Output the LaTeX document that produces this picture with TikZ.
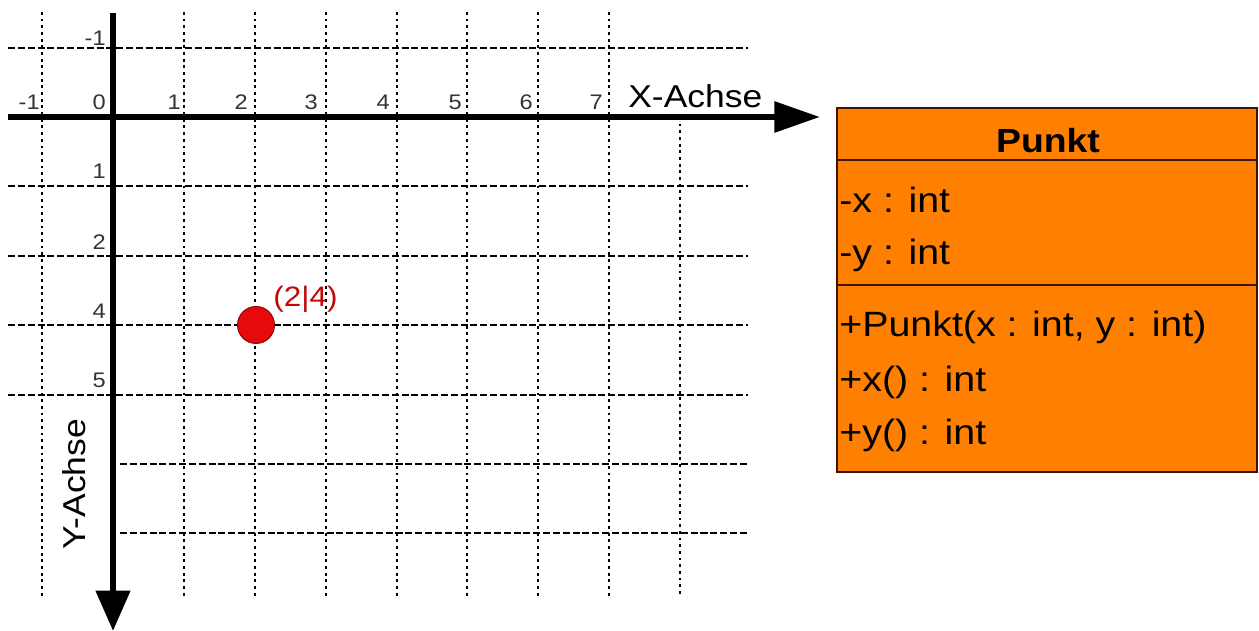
\documentclass[tikz,border=0pt]{standalone}
\usepackage{fontspec}
\setmainfont{Liberation Sans}[FakeStretch=1.12]
\usetikzlibrary{arrows.meta}

\definecolor{umlorange}{RGB}{255,128,0}
\definecolor{umlline}{RGB}{60,20,10}
\definecolor{punktrot}{RGB}{230,10,10}

\tikzset{
  hgrid/.style={line width=1pt,dash pattern=on 4pt off 1.6pt},
  vgrid/.style={line width=1pt,dash pattern=on 1.6pt off 2.2pt},
  axis/.style={line width=3.7pt},
  ticklabel/.style={font=\fontsize{12}{14}\selectfont,inner sep=0pt,anchor=base east,text=black!80},
  axislabel/.style={font=\fontsize{18}{22}\selectfont,inner sep=0pt,anchor=base west},
  member/.style={font=\fontsize{20}{24}\selectfont,inner sep=0pt,anchor=base west},
}

\begin{document}
\begin{tikzpicture}[x=0.02cm,y=-0.02cm]
\useasboundingbox (0,0) rectangle (1259,631);

% grid
\foreach \x in {42,184,255,326,397,467,538,609}
  \draw[vgrid] (\x,12) -- (\x,597);
\draw[vgrid] (680,117) -- (680,597);
\foreach \y in {48,186,256,325,395}
  \draw[hgrid] (8,\y) -- (748,\y);
\foreach \y in {464,533}
  \draw[hgrid] (120,\y) -- (748,\y);

% axes
\coordinate (xstart) at (8,117);
\coordinate (xend) at (820,117);
\coordinate (ystart) at (113,13);
\coordinate (yend) at (113,631);
\draw[axis,-{Triangle[length=26pt,width=17pt]}] (xstart) -- (xend);
\draw[axis,-{Triangle[length=23pt,width=19pt]}] (ystart) -- (yend);

\foreach \x/\t [count=\i] in {40/-1,106/0,181/1,248/2,318/3,390/4,462/5,533/6,603/7}
  \node[ticklabel] (xtick\i) at (\x,110) {\t};
\foreach \y/\t [count=\i] in {46/-1,179/1,250/2,319/4,388/5}
  \node[ticklabel] (ytick\i) at (106,\y) {\t};

\node[axislabel] (xlabel) at (628,108) {X-Achse};
\node[axislabel,rotate=90] (ylabel) at (85,550) {Y-Achse};

% the point
\node[circle,fill=punktrot,draw=punktrot!60!black,line width=0.6pt,
  minimum size=21pt,inner sep=0pt] (p) at (256,325) {};
\node[font=\fontsize{16}{18}\selectfont,text=punktrot!85!black,inner sep=0pt,anchor=base west]
  (plabel) at (273,307) {(2|4)};

% class box
\draw[umlline,fill=umlorange,line width=1.3pt] (837,108) rectangle (1257,472);
\draw[umlline,line width=1.3pt] (837,160) -- (1257,160);
\draw[umlline,line width=1.3pt] (837,285) -- (1257,285);
\node[font=\bfseries\fontsize{19}{23}\selectfont,inner sep=0pt,anchor=base] (name) at (1048,153) {Punkt};
\node[member] (attx) at (839,213) {-x : int};
\node[member] (atty) at (839,265) {-y : int};
\node[member] (ctor) at (839,337) {+Punkt(x : int, y : int)};
\node[member] (getx) at (839,392) {+x() : int};
\node[member] (gety) at (839,445) {+y() : int};
\end{tikzpicture}
\end{document}
